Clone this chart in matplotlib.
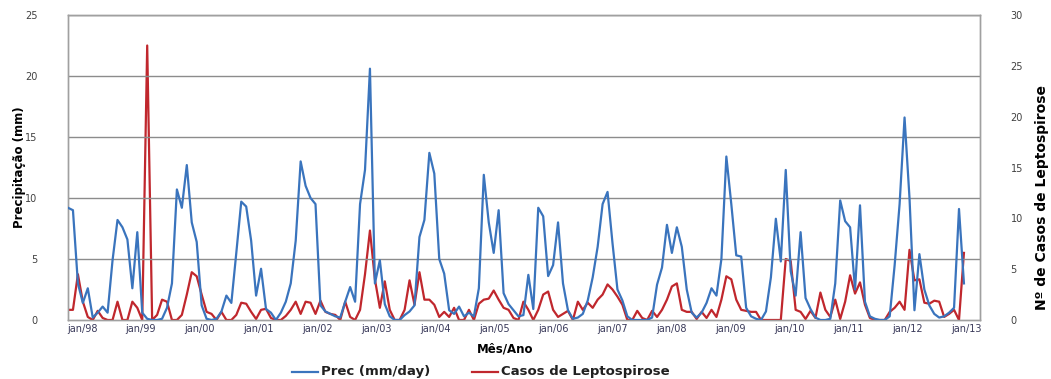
import numpy as np
import matplotlib
matplotlib.use("Agg")
import matplotlib.pyplot as plt
from matplotlib.lines import Line2D

# Monthly series, jan/98 onwards
prec_mm_day = [
    9.2, 9.0, 3.0, 1.4, 2.6, 0.2, 0.6, 1.1, 0.6, 4.9, 8.2, 7.6,
    6.6, 2.6, 7.2, 0.6, 0.1, 0.0, 0.0, 0.1, 1.0, 3.0, 10.7, 9.2,
    12.7, 8.0, 6.4, 1.2, 0.1, 0.0, 0.1, 0.7, 2.0, 1.4, 5.5, 9.7,
    9.3, 6.5, 2.0, 4.2, 0.9, 0.6, 0.0, 0.6, 1.5, 3.0, 6.5, 13.0,
    11.0, 10.0, 9.5, 1.2, 0.7, 0.5, 0.3, 0.2, 1.5, 2.7, 1.5, 9.5,
    12.3, 20.6, 3.0, 4.9, 1.3, 0.3, 0.0, 0.0, 0.4, 0.7, 1.2, 6.8,
    8.2, 13.7, 12.0, 5.0, 3.8, 0.8, 0.5, 1.1, 0.3, 0.6, 0.3, 2.6,
    11.9, 8.0, 5.5, 9.0, 2.2, 1.3, 0.8, 0.3, 0.4, 3.7, 0.9, 9.2,
    8.5, 3.6, 4.5, 8.0, 3.0, 0.8, 0.1, 0.2, 0.5, 1.6, 3.5, 6.0,
    9.5, 10.5, 6.3, 2.5, 1.6, 0.3, 0.0, 0.0, 0.0, 0.0, 0.2, 2.9,
    4.3, 7.8, 5.5, 7.6, 6.0, 2.5, 0.6, 0.2, 0.6, 1.4, 2.6, 2.0,
    5.0, 13.4, 9.5, 5.3, 5.2, 1.0, 0.3, 0.1, 0.0, 0.7, 3.5, 8.3,
    4.8, 12.3, 4.0, 2.0, 7.2, 1.8, 0.9, 0.2, 0.0, 0.0, 0.1, 3.0,
    9.8, 8.1, 7.6, 2.5, 9.4, 1.5, 0.3, 0.1, 0.0, 0.0, 0.3, 4.5,
    9.5, 16.6, 10.0, 0.8, 5.4, 2.5, 1.2, 0.5, 0.2, 0.3, 0.6, 1.0,
    9.1, 3.0,
]

casos_lepto = [
    1.0, 1.0, 4.5, 1.8, 0.3, 0.0, 0.9, 0.2, 0.0, 0.0, 1.8, 0.0,
    0.0, 1.8, 1.2, 0.0, 27.0, 0.0, 0.5, 2.0, 1.8, 0.0, 0.0, 0.5,
    2.5, 4.7, 4.3, 2.5, 0.8, 0.6, 0.0, 0.8, 0.0, 0.0, 0.5, 1.7,
    1.6, 0.8, 0.1, 1.0, 1.1, 0.2, 0.0, 0.0, 0.4, 1.0, 1.8, 0.6,
    1.8, 1.7, 0.6, 1.9, 0.8, 0.6, 0.5, 0.0, 1.8, 0.3, 0.0, 1.0,
    4.5, 8.8, 4.0, 1.2, 3.8, 1.0, 0.0, 0.0, 1.0, 3.9, 1.5, 4.7,
    2.0, 2.0, 1.5, 0.3, 0.8, 0.3, 1.2, 0.0, 0.0, 1.0, 0.0, 1.6,
    2.0, 2.1, 2.9, 2.0, 1.2, 1.0, 0.2, 0.0, 1.8, 1.0, 0.0, 1.0,
    2.5, 2.8, 1.0, 0.3, 0.6, 0.9, 0.0, 1.8, 1.0, 1.7, 1.2, 2.0,
    2.5, 3.5, 3.0, 2.3, 1.5, 0.0, 0.0, 0.9, 0.2, 0.0, 0.9, 0.3,
    1.0, 2.0, 3.3, 3.6, 1.0, 0.8, 0.8, 0.1, 0.8, 0.2, 1.0, 0.3,
    2.0, 4.3, 4.0, 2.0, 1.0, 0.9, 0.8, 0.8, 0.0, 0.0, 0.0, 0.0,
    0.0, 6.0, 5.8, 1.0, 0.8, 0.1, 0.9, 0.2, 2.7, 1.0, 0.3, 2.0,
    0.1, 1.8, 4.4, 2.6, 3.7, 1.5, 0.2, 0.0, 0.0, 0.0, 0.8, 1.2,
    1.8, 1.0, 6.9, 3.9, 4.0, 1.7, 1.6, 1.9, 1.8, 0.3, 0.6, 1.0,
    0.0, 6.6,
]

year_labels = ["jan/98", "jan/99", "jan/00", "jan/01", "jan/02", "jan/03",
               "jan/04", "jan/05", "jan/06", "jan/07", "jan/08", "jan/09",
               "jan/10", "jan/11", "jan/12", "jan/13"]

BLUE = "#3a74bd"
RED = "#c0272d"
GRID = "#8c8c8c"
TICK = "#404040"

W, H = 1051, 379
fig = plt.figure(figsize=(W / 100, H / 100), dpi=100)
fig.patch.set_facecolor("white")

x0, x1, yb, yt = 68, 980, 320, 15
ax = fig.add_axes([x0 / W, 1 - yb / H, (x1 - x0) / W, (yb - yt) / H])
ax2 = ax.twinx()

months = np.arange(len(prec_mm_day))
px_per_month = 4.95
ax.set_xlim(0, (x1 - x0) / px_per_month)
ax.set_ylim(0, 25)
ax2.set_ylim(0, 30)

ax.set_yticks(np.arange(0, 26, 5))
ax2.set_yticks(np.arange(0, 31, 5))
for v in range(5, 26, 5):
    ax.axhline(v, color=GRID, lw=1.0, zorder=0)

ax.plot(months, prec_mm_day, color=BLUE, lw=1.6, zorder=3, solid_joinstyle="round")
ax2.plot(months, casos_lepto, color=RED, lw=1.6, zorder=3, solid_joinstyle="round")
ax.set_zorder(ax2.get_zorder() + 1)
ax.patch.set_visible(False)

# label centres along the axis, in pixels
label_px = np.linspace(82, 966, len(year_labels))
ax.set_xticks((label_px - x0) / px_per_month)
ax.set_xticklabels(year_labels)

for a in (ax, ax2):
    for s in a.spines.values():
        s.set_color("#a0a0a0")
        s.set_linewidth(1.0)
    a.tick_params(length=0, labelsize=7, colors=TICK)
ax.tick_params(axis="y", pad=22)
ax2.tick_params(axis="y", pad=22)
ax.tick_params(axis="x", pad=3)
for t in ax.get_xticklabels():
    t.set_color("#3a3a5a")

fig.text(20 / W, 1 - 167 / H, "Precipitação (mm)", rotation=90, ha="center",
         va="center", fontsize=8.5, fontweight="bold", family="Liberation Sans Narrow")
fig.text(1042 / W, 1 - 198 / H, "Nº de Casos de Leptospirose", rotation=90,
         ha="center", va="center", fontsize=10, fontweight="bold",
         family="Liberation Sans Narrow")
fig.text(505 / W, 1 - 349 / H, "Mês/Ano", ha="center", va="center",
         fontsize=8.5, fontweight="bold")

# legend drawn by hand in figure pixels
ly = 1 - 372 / H
for (xa, xb, color, label) in [(292, 318, BLUE, "Prec (mm/day)"),
                               (472, 498, RED, "Casos de Leptospirose")]:
    fig.add_artist(Line2D([xa / W, xb / W], [ly, ly], color=color, lw=1.6,
                          transform=fig.transFigure))
    fig.text((xb + 3) / W, ly, label, ha="left", va="center",
             fontsize=9.5, fontweight="bold", color="#202020")

fig.savefig("out.png", dpi=100, facecolor="white")
